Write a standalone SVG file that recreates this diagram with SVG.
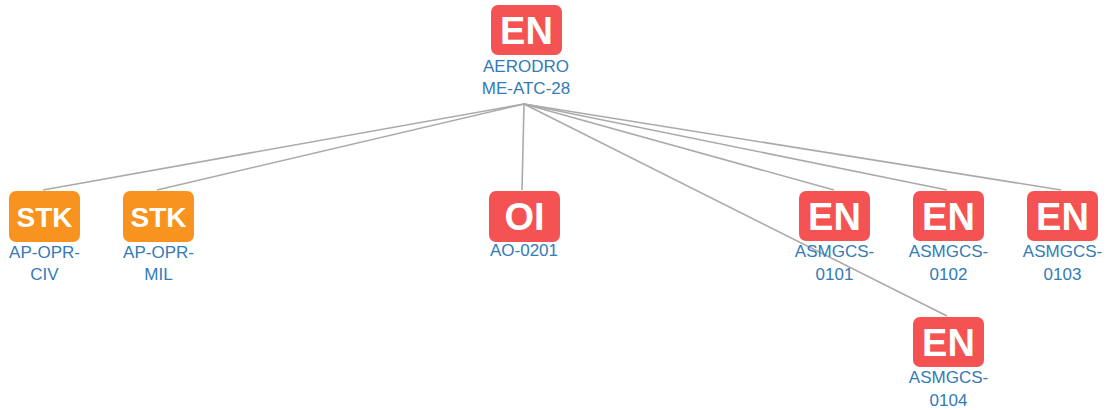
<svg xmlns="http://www.w3.org/2000/svg" width="1109" height="410" viewBox="0 0 1109 410">
<style>
.en{fill:#f55253}
.stk{fill:#f7931e}
.big{font-family:"Liberation Sans",Arial,sans-serif;font-weight:bold;fill:#fff;text-anchor:middle}
.lbl{font-family:"Liberation Sans",Arial,sans-serif;font-size:17px;fill:#337ab7;text-anchor:middle}
.edge{stroke:#aaa;stroke-width:1.6;fill:none}
</style>
<rect width="1109" height="410" fill="#fff"/>
<g id="connectors">
<line class="edge" x1="524" y1="104" x2="43" y2="190"/>
<line class="edge" x1="524" y1="104" x2="157" y2="190"/>
<line class="edge" x1="524" y1="104" x2="522" y2="190"/>
<line class="edge" x1="524" y1="104" x2="834" y2="190"/>
<line class="edge" x1="524" y1="104" x2="947" y2="190"/>
<line class="edge" x1="524" y1="104" x2="1061" y2="190"/>
<line class="edge" x1="524" y1="104" x2="947" y2="316"/>
</g>
<g id="node-aerodrome-atc-28">
<rect class="en" x="491" y="5" width="71" height="50" rx="7"/>
<text class="big" x="526.5" y="44" font-size="38">EN</text>
<text class="lbl" x="526" y="72">AERODRO</text>
<text class="lbl" x="526" y="94">ME-ATC-28</text>
</g>
<g id="node-ap-opr-civ">
<rect class="stk" x="9" y="191" width="71" height="51" rx="7"/>
<text class="big" x="44.5" y="226.5" font-size="28">STK</text>
<text class="lbl" x="44.5" y="258">AP-OPR-</text>
<text class="lbl" x="44.5" y="280">CIV</text>
</g>
<g id="node-ap-opr-mil">
<rect class="stk" x="123" y="191" width="71" height="51" rx="7"/>
<text class="big" x="158.5" y="226.5" font-size="28">STK</text>
<text class="lbl" x="158.5" y="258">AP-OPR-</text>
<text class="lbl" x="158.5" y="280">MIL</text>
</g>
<g id="node-ao-0201">
<rect class="en" x="489" y="191" width="71" height="51" rx="7"/>
<text class="big" x="524.5" y="230" font-size="38">OI</text>
<text class="lbl" x="524" y="256">AO-0201</text>
</g>
<g id="node-asmgcs-0101">
<rect class="en" x="799" y="191" width="71" height="50" rx="7"/>
<text class="big" x="834.5" y="230" font-size="38">EN</text>
<text class="lbl" x="834.5" y="257">ASMGCS-</text>
<text class="lbl" x="834.5" y="280">0101</text>
</g>
<g id="node-asmgcs-0102">
<rect class="en" x="913" y="191" width="71" height="50" rx="7"/>
<text class="big" x="948.5" y="230" font-size="38">EN</text>
<text class="lbl" x="948.5" y="257">ASMGCS-</text>
<text class="lbl" x="948.5" y="280">0102</text>
</g>
<g id="node-asmgcs-0103">
<rect class="en" x="1027" y="191" width="71" height="50" rx="7"/>
<text class="big" x="1062.5" y="230" font-size="38">EN</text>
<text class="lbl" x="1062.5" y="257">ASMGCS-</text>
<text class="lbl" x="1062.5" y="280">0103</text>
</g>
<g id="node-asmgcs-0104">
<rect class="en" x="913" y="317" width="71" height="50" rx="7"/>
<text class="big" x="948.5" y="356" font-size="38">EN</text>
<text class="lbl" x="948.5" y="383">ASMGCS-</text>
<text class="lbl" x="948.5" y="406">0104</text>
</g>
</svg>
